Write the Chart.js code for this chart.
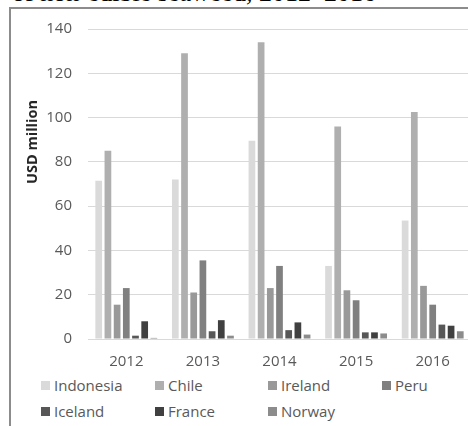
<!DOCTYPE html>
<html lang="en">
<head>
    <meta charset="UTF-8">
    <title>Non-edible seaweed exports</title>
    <style>
        html, body {
            margin: 0;
            padding: 0;
            overflow: hidden;
            background: #ffffff;
        }

        #heading {
            position: absolute;
            left: 12px;
            top: -20px;
            font-family: "Liberation Serif", serif;
            font-size: 26px;
            line-height: 26px;
            color: #000000;
            white-space: nowrap;
        }

        #frame {
            position: absolute;
            left: 9px;
            top: 7px;
            width: 600px;
            height: 600px;
            border: 2px solid #8c8c8c;
        }

        #chartBox {
            position: absolute;
            left: 0;
            top: 0;
            width: 478px;
            height: 372px;
        }

        .legend-item {
            position: absolute;
            font-family: "Open Sans", sans-serif;
            font-size: 15px;
            color: #595959;
            white-space: nowrap;
            line-height: 18px;
        }

        .legend-item span {
            display: inline-block;
            width: 9px;
            height: 9px;
            margin-right: 4px;
            vertical-align: 1px;
        }
    </style>
    <script src="https://cdn.jsdelivr.net/npm/chart.js"></script>
</head>
<body>

    <div id="heading">of non-edible seaweed, 2012–2016</div>
    <div id="frame"></div>
    <div id="chartBox">
        <canvas id="seaweedChart" width="478" height="372"></canvas>
    </div>
    <div id="legend"></div>

    <script>
        // Years on the x axis
        var years = ['2012', '2013', '2014', '2015', '2016'];

        // Export value per country, USD million
        var indonesia = [71.5, 72, 89.5, 33, 53.5];
        var chile = [85, 129, 134, 96, 102.5];
        var ireland = [15.5, 21, 23, 22, 24];
        var peru = [23, 35.5, 33, 17.5, 15.5];
        var iceland = [1.5, 3.5, 4, 3, 6.5];
        var france = [8, 8.5, 7.5, 3, 6];
        var norway = [0.5, 1.5, 2, 2.5, 3.5];

        var countries = ['Indonesia', 'Chile', 'Ireland', 'Peru', 'Iceland', 'France', 'Norway'];
        var values = [indonesia, chile, ireland, peru, iceland, france, norway];
        var shades = ['#dadada', '#afafaf', '#999999', '#808080', '#575757', '#404040', '#8c8c8c'];

        // Y axis ticks
        var yMax = 140;
        var yStep = 20;

        var datasets = [];
        for (var i = 0; i < countries.length; i++) {
            datasets.push({
                label: countries[i],
                data: values[i],
                backgroundColor: shades[i],
                borderWidth: 0,
                categoryPercentage: 0.84,
                barPercentage: 0.73
            });
        }

        // Rotated axis caption, drawn beside the tick labels
        var axisCaption = {
            id: 'axisCaption',
            afterDraw: function (chart) {
                var ctx = chart.ctx;
                ctx.save();
                ctx.translate(33, 142);
                ctx.rotate(-Math.PI / 2);
                ctx.font = 'bold 14.5px "Open Sans"';
                ctx.fillStyle = '#262626';
                ctx.textAlign = 'center';
                ctx.textBaseline = 'middle';
                ctx.fillText('USD million', 0, 0);
                ctx.restore();
            }
        };

        var tickFont = { family: 'Open Sans', size: 15 };

        var ctx = document.getElementById('seaweedChart').getContext('2d');
        var seaweedChart = new Chart(ctx, {
            type: 'bar',
            data: {
                labels: years,
                datasets: datasets
            },
            options: {
                responsive: false,
                animation: false,
                layout: {
                    padding: { left: 0, right: 7, top: 29, bottom: 0 }
                },
                plugins: {
                    legend: { display: false },
                    tooltip: { enabled: false }
                },
                scales: {
                    x: {
                        grid: { display: false },
                        border: { display: false },
                        ticks: {
                            color: '#595959',
                            font: tickFont,
                            padding: 6
                        },
                        afterFit: function (scale) { scale.height = 33; }
                    },
                    y: {
                        min: 0,
                        max: yMax,
                        grid: {
                            color: '#d9d9d9',
                            lineWidth: 1,
                            drawTicks: false
                        },
                        border: { display: false },
                        ticks: {
                            stepSize: yStep,
                            color: '#595959',
                            font: tickFont,
                            padding: 16
                        },
                        afterFit: function (scale) { scale.width = 88; }
                    }
                }
            },
            plugins: [axisCaption]
        });

        // Legend in four columns, two rows
        var legend = document.getElementById('legend');
        var colX = [41, 155, 268, 382];
        var rowY = [376, 402];
        for (var k = 0; k < countries.length; k++) {
            var item = document.createElement('div');
            item.className = 'legend-item';
            item.style.left = colX[k % 4] + 'px';
            item.style.top = rowY[Math.floor(k / 4)] + 'px';
            item.innerHTML = '<span style="background:' + shades[k] + '"></span>' + countries[k];
            legend.appendChild(item);
        }
    </script>

</body>
</html>
